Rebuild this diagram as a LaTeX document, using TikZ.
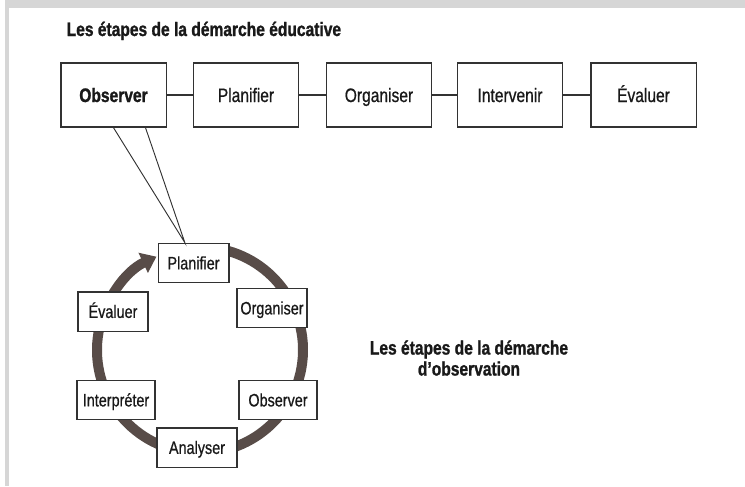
\documentclass[tikz,border=0pt]{standalone}
\usepackage{fontspec}
\setmainfont{Liberation Sans}[FakeStretch=0.8,
  UprightFeatures={FakeBold=0.7}, BoldFeatures={FakeBold=1.2}]
\usetikzlibrary{calc,arrows.meta}

\definecolor{cadre}{RGB}{214,214,214}
\definecolor{anneau}{RGB}{88,76,72}
\definecolor{trait}{RGB}{50,50,50}

\tikzset{
  etape/.style={draw=trait, line width=1pt, fill=white, inner sep=0pt,
    minimum height=29.5pt, text height=9.6pt, text depth=0pt,
    font=\fontsize{13.5}{16}\selectfont, text=black!90},
  grande/.style={etape, minimum height=48pt, minimum width=79pt,
    text height=10.5pt, font=\fontsize{14.6}{16}\selectfont},
  titre/.style={font=\fontsize{14.6}{15.75}\selectfont\bfseries, text=black!90},
  lien/.style={draw=trait, line width=1pt},
  fin/.style={draw=trait, line width=0.7pt}
}

\begin{document}
\begin{tikzpicture}[x=0.75pt,y=0.75pt]
  \pgfmathsetmacro{\ray}{103}%
  \pgfmathsetmacro{\debut}{80}%
  \pgfmathsetmacro{\fin}{115-360}%

  \useasboundingbox (0,0) rectangle (745,-486);
  %cadre
  \fill[cadre] (5,0) rectangle (745,-8);
  \fill[cadre] (5,0) rectangle (9,-486);

  %demarche educative
  \node[titre, anchor=base west] (titre1) at (62,-36) {Les étapes de la démarche éducative};

  \node[grande] (obsT) at (113.5,-95) {\bfseries Observer};
  \node[grande] (plaT) at (246,-95) {Planifier};
  \node[grande] (orgT) at (379,-95) {Organiser};
  \node[grande] (intT) at (510,-95) {Intervenir};
  \node[grande] (evaT) at (643.5,-95) {Évaluer};
  \draw[lien] (obsT) -- (plaT);
  \draw[lien] (plaT) -- (orgT);
  \draw[lien] (orgT) -- (intT);
  \draw[lien] (intT) -- (evaT);

  %anneau
  \coordinate (centre) at (200,-350);
  \draw[anneau, line width=7.5pt, -{Triangle[width=16pt,length=11pt]}]
    ($(centre)+(\debut:\ray)$) arc[start angle=\debut, end angle=\fin, radius=\ray];

  %demarche d'observation
  \node[etape, minimum width=53pt] (plaC) at (193.5,-263) {Planifier};
  \node[etape, minimum width=52.5pt] (orgC) at (272,-308) {Organiser};
  \node[etape, minimum width=52.5pt] (evaC) at (113,-311.5) {Évaluer};
  \node[etape, minimum width=58.5pt] (intC) at (116,-400) {Interpréter};
  \node[etape, minimum width=58.5pt] (obsC) at (278,-400) {Observer};
  \node[etape, minimum width=60pt] (anaC) at (197,-447.5) {Analyser};

  \node[titre, align=center] (titre2) at (469,-358) {Les étapes de la démarche\\d’observation};

  %bulle
  \coordinate (bulle) at ($(plaC.north west)!0.38!(plaC.north east)$);
  \draw[fin] ($(obsT.south west)!0.5!(obsT.south east)$) -- (bulle)
    -- ($(obsT.south west)!0.8!(obsT.south east)$);
\end{tikzpicture}
\end{document}
